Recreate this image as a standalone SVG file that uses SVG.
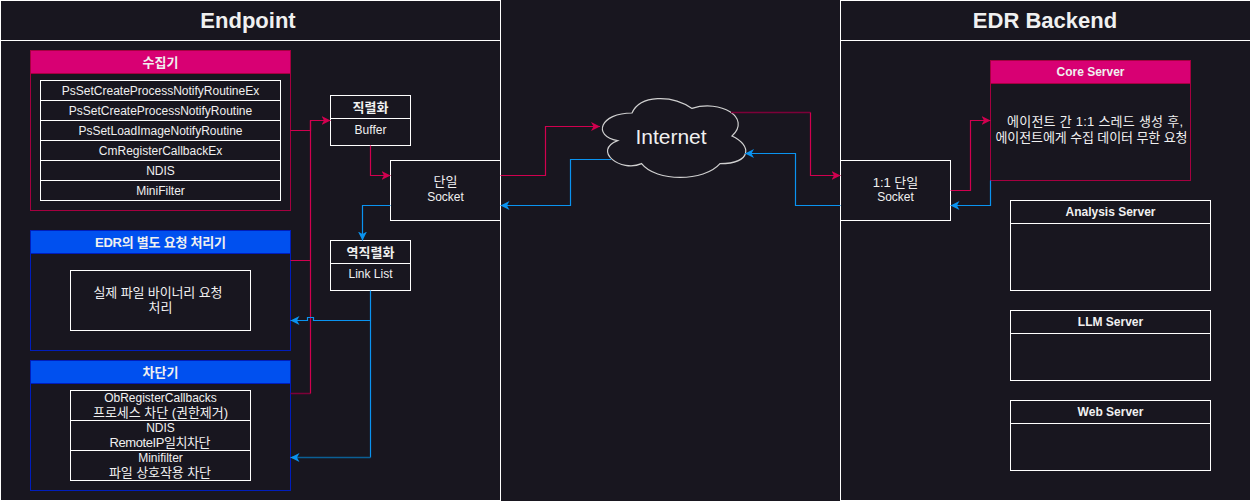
<svg xmlns="http://www.w3.org/2000/svg" width="1251" height="501" viewBox="0 0 1251 501">
<style>
text{font-family:"Liberation Sans","Noto Sans CJK KR",sans-serif;fill:#f0f0f0;font-size:12px;text-anchor:middle;dominant-baseline:central}
.b{font-weight:bold}
.k{font-size:13px}
.t{font-size:22px;font-weight:bold}
.w{fill:none;stroke:#ffffff;stroke-width:1}
.bg{fill:#18161f}
.r{fill:none;stroke:#d1004f;stroke-width:1.2}
.rd{fill:none;stroke:#7c0038;stroke-width:1.5}
.u{fill:none;stroke:#0a93f0;stroke-width:1.2}
.ud{fill:none;stroke:#0b5f95;stroke-width:1.5}
</style>
<defs>
<marker id="ar" markerUnits="userSpaceOnUse" markerWidth="10" markerHeight="9" refX="9" refY="4.5" orient="auto"><path d="M0,0 L9,4.5 L0,9 L2.5,4.5 z" fill="#d1004f"/></marker>
<marker id="ab" markerUnits="userSpaceOnUse" markerWidth="10" markerHeight="9" refX="9" refY="4.5" orient="auto"><path d="M0,0 L9,4.5 L0,9 L2.5,4.5 z" fill="#0a93f0"/></marker>
</defs>
<rect x="0" y="0" width="1251" height="501" class="bg"/>

<g id="endpoint">
<rect x="0.5" y="0.5" width="500" height="500" class="w"/>
<line x1="0.5" y1="40.5" x2="500.5" y2="40.5" class="w"/>
<text x="248" y="20" class="t">Endpoint</text>
</g>

<g id="backend">
<rect x="840.5" y="0.5" width="410" height="500" class="w"/>
<line x1="840.5" y1="40.5" x2="1250.5" y2="40.5" class="w"/>
<text x="1045" y="20" class="t">EDR Backend</text>
</g>

<g id="collector">
<rect x="30.5" y="50.5" width="260" height="160" fill="#18161f" stroke="#a50040"/>
<rect x="30.5" y="50.5" width="260" height="23" fill="#d80073" stroke="#a50040"/>
<text x="160.5" y="62" class="b k">수집기</text>
<rect x="40.5" y="80.5" width="240" height="120" class="w"/>
<path d="M40.5,100.5H280.5M40.5,120.5H280.5M40.5,140.5H280.5M40.5,160.5H280.5M40.5,180.5H280.5" class="w"/>
<text x="160.5" y="90.5">PsSetCreateProcessNotifyRoutineEx</text>
<text x="160.5" y="110.5">PsSetCreateProcessNotifyRoutine</text>
<text x="160.5" y="130.5">PsSetLoadImageNotifyRoutine</text>
<text x="160.5" y="150.5">CmRegisterCallbackEx</text>
<text x="160.5" y="170.5">NDIS</text>
<text x="160.5" y="190.5">MiniFilter</text>
</g>

<g id="handler">
<rect x="30.5" y="230.5" width="260" height="120" fill="#18161f" stroke="#001dbc"/>
<rect x="30.5" y="230.5" width="260" height="23" fill="#0050ef" stroke="#001dbc"/>
<text x="160.5" y="242" class="b k" textLength="131">EDR의 별도 요청 처리기</text>
<rect x="70.5" y="270.5" width="180" height="60" class="w"/>
<text x="158" y="292.5" class="k" textLength="129">실제 파일 바이너리 요청</text>
<text x="160.5" y="307.5" class="k">처리</text>
</g>

<g id="blocker">
<rect x="30.5" y="360.5" width="260" height="130" fill="#18161f" stroke="#001dbc"/>
<rect x="30.5" y="360.5" width="260" height="23" fill="#0050ef" stroke="#001dbc"/>
<text x="160.5" y="372" class="b k">차단기</text>
<rect x="70.5" y="390.5" width="180" height="90" class="w"/>
<path d="M70.5,420.5H250.5M70.5,450.5H250.5" class="w"/>
<text x="160.5" y="398">ObRegisterCallbacks</text>
<text x="160.5" y="412.5" class="k" textLength="135">프로세스 차단 (권한제거)</text>
<text x="160.5" y="428">NDIS</text>
<text x="160" y="442.5" class="k" textLength="101">RemoteIP일치차단</text>
<text x="160.5" y="458">Minifilter</text>
<text x="160" y="472.5" class="k" textLength="102">파일 상호작용 차단</text>
</g>

<g id="serialize">
<rect x="330.5" y="95.5" width="80" height="50" class="w"/>
<line x1="330.5" y1="118.5" x2="410.5" y2="118.5" class="w"/>
<text x="370.5" y="107" class="b k">직렬화</text>
<text x="370.5" y="130">Buffer</text>
</g>

<g id="socket">
<rect x="390.5" y="160.5" width="110" height="60" class="w"/>
<text x="445.5" y="181" class="k">단일</text>
<text x="445.5" y="197">Socket</text>
</g>

<g id="deserialize">
<rect x="330.5" y="240.5" width="80" height="50" class="w"/>
<line x1="330.5" y1="263.5" x2="410.5" y2="263.5" class="w"/>
<text x="370.5" y="252" class="b k">역직렬화</text>
<text x="370.5" y="274">Link List</text>
</g>

<g id="internet">
<path d="M632,113 C600,113 592,136 617.6,140.6 C592,150.7 620.8,172.8 641.6,163.6 C656,182 704,182 720,163.6 C752,163.6 752,145.2 732,136 C752,117.6 720,99.2 692,108.4 C672,94.6 640,94.6 632,113 Z" fill="#18161f" stroke="#d0d0d0" stroke-width="1.2"/>
<text x="671" y="136" style="font-size:21px">Internet</text>
</g>

<g id="socket11">
<rect x="840.5" y="160.5" width="110" height="60" class="w"/>
<text x="895.5" y="182.5" class="k">1:1 단일</text>
<text x="895.5" y="197">Socket</text>
</g>

<g id="core">
<rect x="990.5" y="60.5" width="200" height="120" fill="#18161f" stroke="#a50040"/>
<rect x="990.5" y="60.5" width="200" height="23" fill="#d80073" stroke="#a50040"/>
<text x="1090.5" y="72" class="b">Core Server</text>
<text x="1095" y="121.5" class="k" textLength="176">에이전트 간 1:1 스레드 생성 후,</text>
<text x="1091.5" y="137" class="k" textLength="192">에이전트에게 수집 데이터 무한 요청</text>
</g>

<g id="analysis">
<rect x="1010.5" y="200.5" width="200" height="90" class="w"/>
<line x1="1010.5" y1="223.5" x2="1210.5" y2="223.5" class="w"/>
<text x="1110.5" y="212" class="b">Analysis Server</text>
</g>

<g id="llm">
<rect x="1010.5" y="310.5" width="200" height="70" class="w"/>
<line x1="1010.5" y1="333.5" x2="1210.5" y2="333.5" class="w"/>
<text x="1110.5" y="322" class="b">LLM Server</text>
</g>

<g id="web">
<rect x="1010.5" y="400.5" width="200" height="70" class="w"/>
<line x1="1010.5" y1="423.5" x2="1210.5" y2="423.5" class="w"/>
<text x="1110.5" y="412" class="b">Web Server</text>
</g>

<g id="connectors">
<path d="M290.5,130.5H310.5V120.5H330.5" class="r" marker-end="url(#ar)"/>
<path d="M290.5,260.5H310.5V120.5" class="r"/>
<path d="M290.5,393.5H310.5" class="rd"/>
<path d="M310.5,393.5V260.5" class="r"/>
<path d="M370.5,145.5V175.5H390.5" class="r" marker-end="url(#ar)"/>
<path d="M390.5,205.5H362.5V240.5" class="u" marker-end="url(#ab)"/>
<path d="M370.5,290.5V320.5H313.5V317.5H307.5V320.5H290.5" class="u" marker-end="url(#ab)"/>
<path d="M370.5,320.5V457.5" class="u"/>
<path d="M370.5,457.5H292" class="ud"/>
<path d="M295,457.5H290.5" class="u" marker-end="url(#ab)"/>
<path d="M500.5,175.5H545.5V126.5H600" class="r" marker-end="url(#ar)"/>
<path d="M611,159.5H570.5V205.5H500.5" class="u" marker-end="url(#ab)"/>
<path d="M731,112.5H810.5" class="rd"/>
<path d="M810.5,112.5V175.5H840.5" class="r" marker-end="url(#ar)"/>
<path d="M840.5,205.5H795.5V153.5H745" class="u" marker-end="url(#ab)"/>
<path d="M950.5,190.5H970.5V120.5H990.5" class="r" marker-end="url(#ar)"/>
<path d="M990.5,180.5V205.5H950.5" class="u" marker-end="url(#ab)"/>
</g>
</svg>
